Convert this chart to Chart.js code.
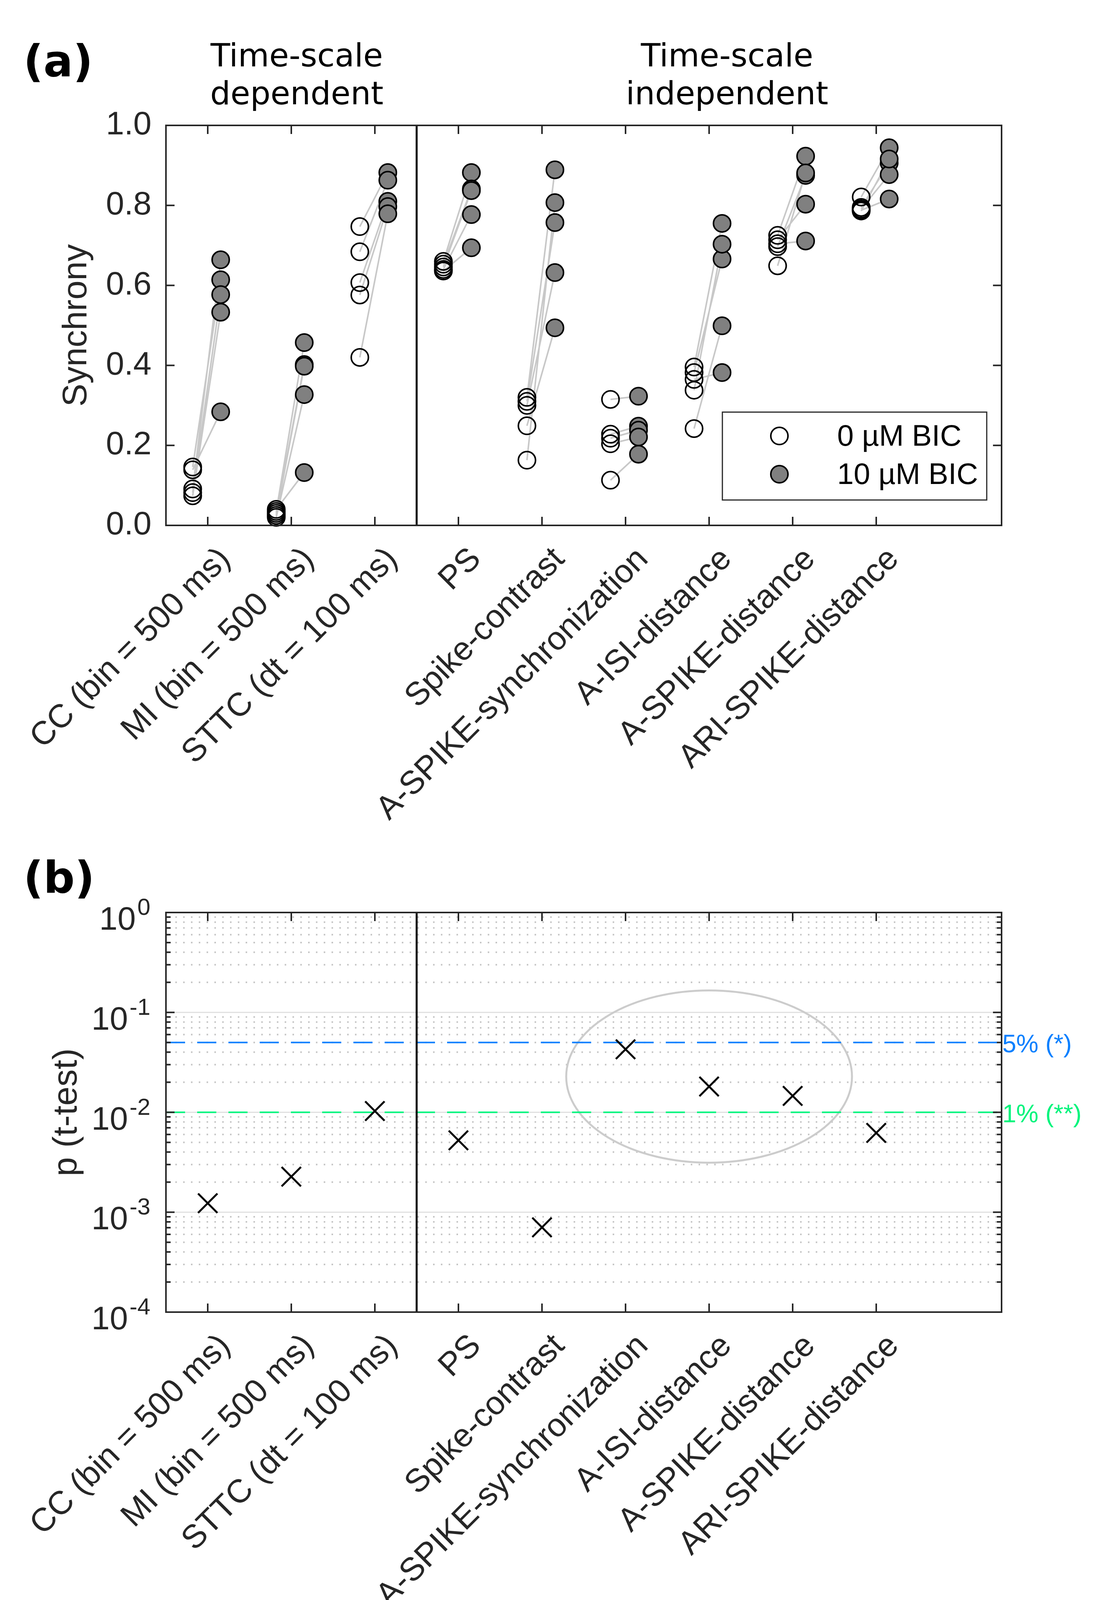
<!DOCTYPE html>
<html>
<head>
<meta charset="utf-8">
<title>Synchrony 0 vs 10 µM BIC</title>
<script src="https://cdn.jsdelivr.net/npm/chart.js@4.4.1/dist/chart.umd.min.js"></script>
<style>
    body { margin: 0; background: #fff; width: 2835px; height: 4250px; position: relative; overflow: hidden; }
    canvas { position: absolute; left: 0; }
    #chartA { top: 0; }
    #chartB { top: 2150px; }
</style>
</head>
<body>
<canvas id="chartA" width="2835" height="2150"></canvas>
<canvas id="chartB" width="2835" height="2100"></canvas>

<script>
    // categories
    var measures = ['CC (bin = 500 ms)', 'MI (bin = 500 ms)', 'STTC (dt = 100 ms)', 'PS', 'Spike-contrast',
        'A-SPIKE-synchronization', 'A-ISI-distance', 'A-SPIKE-distance', 'ARI-SPIKE-distance'];
    var groupTitles = [['Time-scale', 'dependent'], ['Time-scale', 'independent']];

    // synchrony of each culture, same culture order in both arrays
    var sync0 = [
        [0.146, 0.139, 0.091, 0.082, 0.074],
        [0.040, 0.035, 0.030, 0.025, 0.020],
        [0.747, 0.684, 0.607, 0.576, 0.420],
        [0.660, 0.653, 0.646, 0.640, 0.636],
        [0.320, 0.310, 0.300, 0.249, 0.163],
        [0.315, 0.228, 0.218, 0.204, 0.113],
        [0.396, 0.382, 0.365, 0.338, 0.242],
        [0.725, 0.714, 0.704, 0.697, 0.649],
        [0.821, 0.795, 0.791, 0.788, 0.786]
    ];
    var sync10 = [
        [0.614, 0.284, 0.664, 0.577, 0.533],
        [0.132, 0.457, 0.402, 0.398, 0.327],
        [0.882, 0.863, 0.810, 0.797, 0.779],
        [0.882, 0.841, 0.837, 0.777, 0.694],
        [0.889, 0.757, 0.632, 0.494, 0.807],
        [0.323, 0.248, 0.238, 0.221, 0.178],
        [0.755, 0.666, 0.382, 0.703, 0.499],
        [0.923, 0.803, 0.711, 0.875, 0.881],
        [0.944, 0.906, 0.877, 0.816, 0.916]
    ];
    var legendLabels = ['0 µM BIC', '10 µM BIC'];
    var syncTicks = [0, 0.2, 0.4, 0.6, 0.8, 1.0];

    // t-test p values
    var pValues = [0.00123, 0.00227, 0.0103, 0.00524, 0.000705, 0.0427, 0.0181, 0.0146, 0.00622];
    var pExponents = [0, -1, -2, -3, -4];
    var sigLevels = [0.05, 0.01];
    var sigLabels = ['5% (*)', '1% (**)'];
    var highlighted = [6, 8]; // measures circled in (b)

    var TICK_FONT = 'Liberation Sans';
    var INK = '#262626';
    var sigColors = ['#0a80ff', '#00f47c'];

    var openPts = [], filledPts = [], pairPts = [], crossPts = [];
    for (var i = 0; i < measures.length; i++) {
        for (var j = 0; j < sync0[i].length; j++) {
            openPts.push({x: i + 1 - 0.18, y: sync0[i][j]});
            filledPts.push({x: i + 1 + 0.155, y: sync10[i][j]});
            pairPts.push({x: i + 1 - 0.18, y: sync0[i][j]});
            pairPts.push({x: i + 1 + 0.155, y: sync10[i][j]});
            pairPts.push({x: i + 1, y: null});
        }
        crossPts.push({x: i + 1, y: pValues[i]});
    }

    function line(ctx, x1, y1, x2, y2) {
        ctx.beginPath();
        ctx.moveTo(x1, y1);
        ctx.lineTo(x2, y2);
        ctx.stroke();
    }

    var frame = {
        id: 'frame',
        beforeDatasetsDraw: function(chart, args, opts) {
            var ctx = chart.ctx, a = chart.chartArea, xs = chart.scales.x, ys = chart.scales.y;
            ctx.save();
            if (opts.logGrid) {
                for (var k = -4; k < 0; k++) {
                    ctx.strokeStyle = '#c6c6c6';
                    ctx.lineWidth = 4;
                    ctx.setLineDash([4, 16]);
                    for (var m = 2; m <= 9; m++) {
                        var py = ys.getPixelForValue(m * Math.pow(10, k));
                        line(ctx, a.left + 4, py, a.right, py);
                    }
                    if (k > -4) {
                        ctx.setLineDash([]);
                        ctx.strokeStyle = '#e0e0e0';
                        ctx.lineWidth = 3;
                        var pm = ys.getPixelForValue(Math.pow(10, k));
                        line(ctx, a.left, pm, a.right, pm);
                    }
                }
            }
            if (opts.ellipse) {
                var e = opts.ellipse;
                var x1 = xs.getPixelForValue(e.x[0]), x2 = xs.getPixelForValue(e.x[1]);
                var y1 = ys.getPixelForValue(e.y[0]), y2 = ys.getPixelForValue(e.y[1]);
                ctx.setLineDash([]);
                ctx.strokeStyle = '#cccccc';
                ctx.lineWidth = 5;
                ctx.beginPath();
                ctx.ellipse((x1 + x2) / 2, (y1 + y2) / 2, Math.abs(x2 - x1) / 2, Math.abs(y2 - y1) / 2, 0, 0, Math.PI * 2);
                ctx.stroke();
            }
            ctx.restore();
        },
        afterDatasetsDraw: function(chart, args, opts) {
            var ctx = chart.ctx, a = chart.chartArea, xs = chart.scales.x, ys = chart.scales.y;
            ctx.save();
            ctx.setLineDash([]);
            // separator between the two groups
            ctx.strokeStyle = '#000';
            ctx.lineWidth = 5;
            var sx = xs.getPixelForValue(3.5);
            line(ctx, sx, a.top, sx, a.bottom);
            // inward ticks
            ctx.strokeStyle = INK;
            ctx.lineWidth = 4;
            for (var i = 1; i <= measures.length; i++) {
                var px = xs.getPixelForValue(i);
                line(ctx, px, a.top, px, a.top + 22);
                line(ctx, px, a.bottom, px, a.bottom - 22);
            }
            if (opts.logGrid) {
                for (var k = -4; k <= 0; k++) {
                    for (var m = 1; m <= 9; m++) {
                        if (k === 0 && m > 1) break;
                        var py = ys.getPixelForValue(m * Math.pow(10, k));
                        var len = m === 1 ? 22 : 12;
                        line(ctx, a.left, py, a.left + len, py);
                        line(ctx, a.right, py, a.right - len, py);
                    }
                }
            } else {
                syncTicks.forEach(function(v) {
                    var py = ys.getPixelForValue(v);
                    line(ctx, a.left, py, a.left + 22, py);
                    line(ctx, a.right, py, a.right - 22, py);
                });
            }
            ctx.strokeRect(a.left, a.top, a.right - a.left, a.bottom - a.top);
            ctx.restore();
        },
        afterDraw: function(chart, args, opts) {
            var ctx = chart.ctx, a = chart.chartArea, xs = chart.scales.x, ys = chart.scales.y;
            ctx.save();
            ctx.fillStyle = '#000';
            ctx.textAlign = 'left';
            ctx.textBaseline = 'alphabetic';
            ctx.font = 'bold 112px "DejaVu Sans"';
            ctx.fillText(opts.panel, 60, opts.panelY);

            if (opts.titles) {
                ctx.font = '82px "DejaVu Sans"';
                ctx.textAlign = 'center';
                var centres = [760, 1862];
                groupTitles.forEach(function(t, g) {
                    ctx.fillText(t[0], centres[g], 170);
                    ctx.fillText(t[1], centres[g], 267);
                });
            }

            if (opts.legend) {
                var L = opts.legend;
                ctx.strokeStyle = INK;
                ctx.lineWidth = 3;
                ctx.fillStyle = '#fff';
                ctx.fillRect(L.left, L.top, L.right - L.left, L.bottom - L.top);
                ctx.strokeRect(L.left, L.top, L.right - L.left, L.bottom - L.top);
                var sets = [chart.data.datasets[1], chart.data.datasets[2]];
                sets.forEach(function(ds, n) {
                    var cy = L.rows[n];
                    ctx.beginPath();
                    ctx.arc(L.marker, cy, ds.pointRadius, 0, Math.PI * 2);
                    ctx.fillStyle = ds.backgroundColor;
                    ctx.fill();
                    ctx.lineWidth = ds.borderWidth;
                    ctx.strokeStyle = ds.borderColor;
                    ctx.stroke();
                    ctx.fillStyle = '#000';
                    ctx.font = '76px "' + TICK_FONT + '"';
                    ctx.textAlign = 'left';
                    ctx.textBaseline = 'middle';
                    ctx.fillText(legendLabels[n], L.text, cy + 4);
                });
            }

            if (opts.logGrid) {
                // 10^k tick labels
                ctx.fillStyle = INK;
                ctx.textBaseline = 'alphabetic';
                pExponents.forEach(function(k) {
                    var py = ys.getPixelForValue(Math.pow(10, k));
                    var ex = String(k);
                    ctx.font = '60px "' + TICK_FONT + '"';
                    ctx.textAlign = 'right';
                    ctx.fillText(ex, a.left - 40, py + 6);
                    var w = ctx.measureText(ex).width;
                    ctx.font = '84px "' + TICK_FONT + '"';
                    ctx.fillText('10', a.left - 44 - w, py + 44);
                });
                // significance labels
                ctx.font = '64px "' + TICK_FONT + '"';
                ctx.textAlign = 'left';
                ctx.textBaseline = 'middle';
                sigLevels.forEach(function(s, n) {
                    ctx.fillStyle = sigColors[n];
                    ctx.fillText(sigLabels[n], a.right + 2, ys.getPixelForValue(s) + 8);
                });
            }
            ctx.restore();
        }
    };

    function xAxis(height) {
        return {
            type: 'linear',
            min: 0.5,
            max: 10.5,
            grid: {display: false, drawTicks: false},
            border: {display: false},
            afterBuildTicks: function(s) {
                s.ticks = measures.map(function(m, i) { return {value: i + 1}; });
            },
            afterFit: function(s) {
                s.height = height;
                s.paddingLeft = 0;
                s.paddingRight = 0;
            },
            ticks: {
                autoSkip: false,
                minRotation: 45,
                maxRotation: 45,
                padding: 38,
                labelOffset: 45,
                color: INK,
                font: {family: TICK_FONT, size: 84},
                callback: function(v) { return measures[v - 1]; }
            }
        };
    }

    function yFit(s) {
        s.width = 425;
        s.paddingTop = 0;
        s.paddingBottom = 0;
    }

    var ctxA = document.getElementById('chartA');
    new Chart(ctxA, {
        type: 'scatter',
        data: {
            datasets: [{
                label: 'pairs',
                data: pairPts,
                showLine: true,
                spanGaps: false,
                borderColor: '#c8c8c8',
                borderWidth: 4,
                pointRadius: 0,
                clip: false,
                order: 3
            }, {
                label: legendLabels[0],
                data: openPts,
                pointStyle: 'circle',
                pointRadius: 22,
                backgroundColor: 'rgba(0,0,0,0)',
                borderColor: '#000',
                borderWidth: 4,
                clip: false,
                order: 2
            }, {
                label: legendLabels[1],
                data: filledPts,
                pointStyle: 'circle',
                pointRadius: 22,
                backgroundColor: '#808080',
                borderColor: '#000',
                borderWidth: 4,
                clip: false,
                order: 1
            }]
        },
        options: {
            responsive: false,
            animation: false,
            devicePixelRatio: 1,
            layout: {autoPadding: false, padding: {left: 0, top: 321, right: 270, bottom: 0}},
            plugins: {
                legend: {display: false},
                tooltip: {enabled: false},
                frame: {
                    panel: '(a)', panelY: 195, titles: true,
                    legend: {left: 1850, top: 1055, right: 2527, bottom: 1280, marker: 1996, text: 2144, rows: [1116, 1214]}
                }
            },
            scales: {
                x: xAxis(805),
                y: {
                    min: 0,
                    max: 1,
                    grid: {display: false, drawTicks: false},
                    border: {display: false},
                    afterBuildTicks: function(s) {
                        s.ticks = syncTicks.map(function(v) { return {value: v}; });
                    },
                    afterFit: yFit,
                    ticks: {
                        padding: 37,
                        color: INK,
                        font: {family: TICK_FONT, size: 84},
                        callback: function(v) { return v.toFixed(1); }
                    },
                    title: {
                        display: true,
                        text: 'Synchrony',
                        color: INK,
                        font: {family: TICK_FONT, size: 88},
                        padding: {top: 144, bottom: 0}
                    }
                }
            }
        },
        plugins: [frame]
    });

    var ctxB = document.getElementById('chartB');
    new Chart(ctxB, {
        type: 'scatter',
        data: {
            datasets: [{
                label: 'p',
                data: crossPts,
                pointStyle: 'crossRot',
                pointRadius: 35,
                borderColor: '#000',
                borderWidth: 5,
                clip: false,
                order: 1
            }].concat(sigLevels.map(function(s, n) {
                return {
                    label: sigLabels[n],
                    data: [{x: 0.5, y: s}, {x: 10.5, y: s}],
                    showLine: true,
                    borderColor: sigColors[n],
                    borderWidth: 4,
                    borderDash: [49, 31],
                    pointRadius: 0,
                    order: 2
                };
            }))
        },
        options: {
            responsive: false,
            animation: false,
            devicePixelRatio: 1,
            layout: {autoPadding: false, padding: {left: 0, top: 186, right: 270, bottom: 0}},
            plugins: {
                legend: {display: false},
                tooltip: {enabled: false},
                frame: {
                    panel: '(b)', panelY: 135, logGrid: true,
                    ellipse: {x: [highlighted[0] - 0.71, highlighted[1] + 0.71], y: [0.166, 0.00313]}
                }
            },
            scales: {
                x: xAxis(891),
                y: {
                    type: 'logarithmic',
                    min: 0.0001,
                    max: 1,
                    grid: {display: false, drawTicks: false},
                    border: {display: false},
                    afterFit: yFit,
                    ticks: {display: false},
                    title: {
                        display: true,
                        text: 'p (t-test)',
                        color: INK,
                        font: {family: TICK_FONT, size: 88},
                        padding: {top: 119, bottom: 0}
                    }
                }
            }
        },
        plugins: [frame]
    });
</script>
</body>
</html>
